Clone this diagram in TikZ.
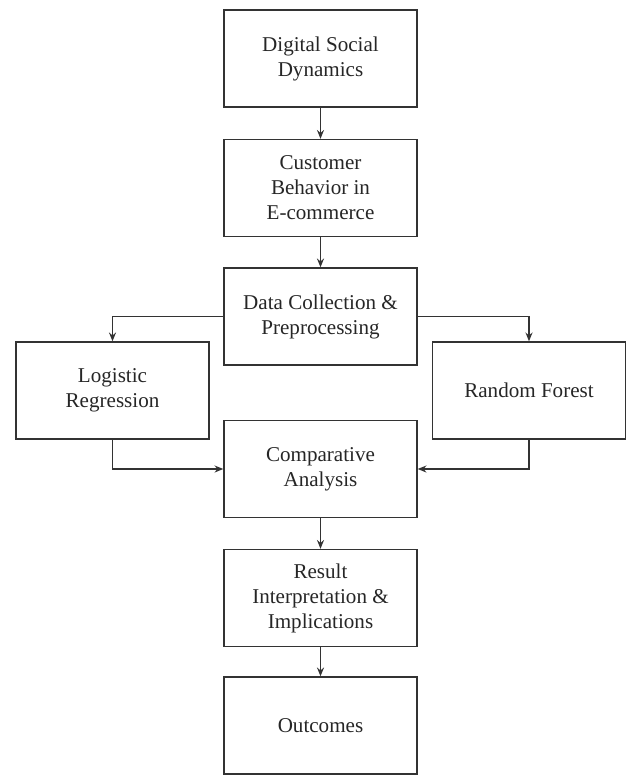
\documentclass[tikz,border=0pt]{standalone}
\usepackage{fontspec}
\setmainfont{Liberation Serif}
\usetikzlibrary{arrows.meta}
\begin{document}
\begin{tikzpicture}[x=0.02cm,y=-0.02cm,
    stage/.style={draw=black!80,line width=0.8pt,rectangle,align=center,inner sep=2pt,
        minimum width=3.86cm,minimum height=1.94cm,font=\fontsize{12}{14.2}\selectfont,text=black!85},
    flow/.style={draw=black!80,line width=0.7pt,-{Stealth[length=5pt,width=4pt]}}]
            \useasboundingbox (0,0) rectangle (630,775);

            \node[stage] (dsd) at (320.5,58.5) {Digital Social\\Dynamics};
            \node[stage] (cbe) at (320.5,188) {Customer\\Behavior in\\E-commerce};
            \node[stage] (dcp) at (320.5,316.5) {Data Collection \&\\Preprocessing};
            \node[stage] (lr) at (112.5,390.5) {Logistic\\Regression};
            \node[stage] (rf) at (529,390.5) {Random Forest};
            \node[stage] (ca) at (320.5,469) {Comparative\\Analysis};
            \node[stage] (rii) at (320.5,598) {Result\\Interpretation \&\\Implications};
            \node[stage] (out) at (320.5,725.5) {Outcomes};

            \draw[flow] (dsd)--(cbe);
            \draw[flow] (cbe)--(dcp);
            \draw[flow] (dcp.west) -| (lr.north);
            \draw[flow] (dcp.east) -| (rf.north);
            \draw[flow] (lr.south) |- (ca.west);
            \draw[flow] (rf.south) |- (ca.east);
            \draw[flow] (ca)--(rii);
            \draw[flow] (rii)--(out);
        \end{tikzpicture}
\end{document}
